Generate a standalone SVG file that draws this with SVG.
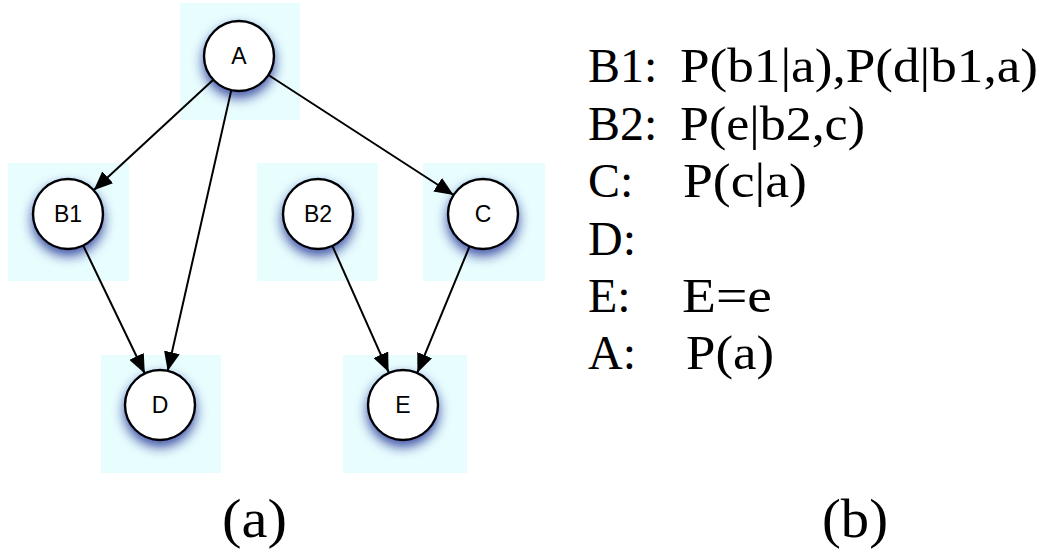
<svg xmlns="http://www.w3.org/2000/svg" width="1048" height="556" viewBox="0 0 1048 556">
<style>
.bg{fill:#e8fdfe}
.node{fill:#ffffff;stroke:#000;stroke-width:2.4}
.lbl{font-family:"Liberation Sans",Arial,sans-serif;font-size:23px;text-anchor:middle;fill:#000}
.edge{stroke:#000;stroke-width:2;fill:none;marker-end:url(#arr)}
.tx{font-family:"Liberation Serif","DejaVu Serif",serif;font-size:48px;fill:#000}
.cap{font-family:"Liberation Serif","DejaVu Serif",serif;font-size:54px;fill:#000}
</style>
<defs>
<marker id="arr" markerUnits="userSpaceOnUse" markerWidth="20" markerHeight="16" refX="19" refY="8" orient="auto">
<path d="M0,0 L19,8 L0,16 Z" fill="#000"/>
</marker>
<filter id="sh" x="-50%" y="-50%" width="200%" height="200%">
<feGaussianBlur in="SourceAlpha" stdDeviation="6"/>
<feOffset dx="0" dy="6" result="b"/>
<feFlood flood-color="#1a2a90" flood-opacity="0.8"/>
<feComposite in2="b" operator="in" result="s"/>
<feMerge><feMergeNode in="s"/><feMergeNode in="SourceGraphic"/></feMerge>
</filter>
</defs>
<g id="nodeA"><rect class="bg" x="180" y="3" width="120" height="117"/><circle class="node" cx="239" cy="56" r="35" filter="url(#sh)"/><text class="lbl" x="239" y="64">A</text></g>
<g id="nodeB1"><rect class="bg" x="8" y="163" width="121" height="118"/><circle class="node" cx="68" cy="214" r="35" filter="url(#sh)"/><text class="lbl" x="68" y="222">B1</text></g>
<g id="nodeB2"><rect class="bg" x="257" y="163" width="121" height="118"/><circle class="node" cx="318" cy="214" r="35" filter="url(#sh)"/><text class="lbl" x="318" y="222">B2</text></g>
<g id="nodeC"><rect class="bg" x="423" y="163" width="122" height="118"/><circle class="node" cx="483" cy="214" r="35" filter="url(#sh)"/><text class="lbl" x="483" y="222">C</text></g>
<g id="nodeD"><rect class="bg" x="101" y="355" width="120" height="118"/><circle class="node" cx="160" cy="405" r="35" filter="url(#sh)"/><text class="lbl" x="160" y="413">D</text></g>
<g id="nodeE"><rect class="bg" x="343" y="355" width="124" height="118"/><circle class="node" cx="403" cy="405" r="35" filter="url(#sh)"/><text class="lbl" x="403" y="413">E</text></g>
<g id="connectors">
<line class="edge" x1="213.3" y1="79.8" x2="93.7" y2="190.2"/>
<line class="edge" x1="231.3" y1="90.1" x2="167.7" y2="370.9"/>
<line class="edge" x1="268.4" y1="75" x2="453.6" y2="195"/>
<line class="edge" x1="83.2" y1="245.5" x2="144.8" y2="373.5"/>
<line class="edge" x1="332.4" y1="245.9" x2="388.6" y2="372.1"/>
<line class="edge" x1="469.6" y1="246.3" x2="417.4" y2="372.7"/>
</g>
<g id="text-b">
<text class="tx" x="588" y="82">B1:</text><text class="tx" x="680" y="82" textLength="358" lengthAdjust="spacingAndGlyphs">P(b1|a),P(d|b1,a)</text>
<text class="tx" x="588" y="140">B2:</text><text class="tx" x="680" y="140" textLength="185" lengthAdjust="spacingAndGlyphs">P(e|b2,c)</text>
<text class="tx" x="588" y="197">C:</text><text class="tx" x="683" y="197" textLength="124" lengthAdjust="spacingAndGlyphs">P(c|a)</text>
<text class="tx" x="588" y="255">D:</text>
<text class="tx" x="588" y="312">E:</text><text class="tx" x="682" y="312" textLength="90" lengthAdjust="spacingAndGlyphs">E=e</text>
<text class="tx" x="588" y="369">A:</text><text class="tx" x="686" y="369" textLength="88" lengthAdjust="spacingAndGlyphs">P(a)</text>
</g>
<text class="cap" x="222" y="537" textLength="65" lengthAdjust="spacingAndGlyphs">(a)</text>
<text class="cap" x="822" y="537" textLength="66" lengthAdjust="spacingAndGlyphs">(b)</text>
</svg>
